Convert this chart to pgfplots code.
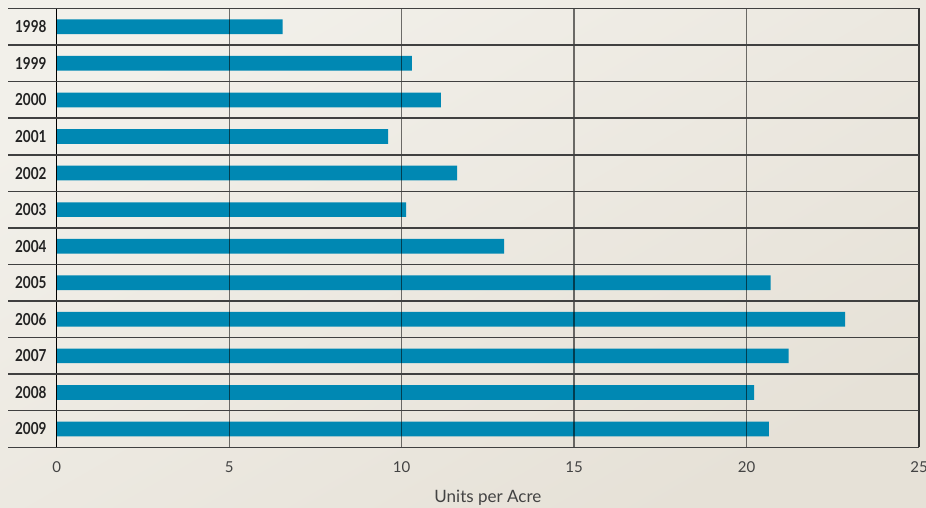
\documentclass[border=0pt]{standalone}
\usepackage{pgfplots}
\pgfplotsset{compat=1.18}
\usepackage{fontspec}
\setmainfont{Lato}
\newfontfamily\yearfont[FakeStretch=0.82]{Lato}
\definecolor{barblue}{HTML}{0088B3}
\definecolor{bgA}{HTML}{F2F0EA}
\definecolor{bgB}{HTML}{E6E1D7}
\definecolor{txt}{HTML}{222222}
\begin{document}
\begin{tikzpicture}[x=1pt,y=1pt]
\shade[top color=bgA, bottom color=bgB, shading angle=30] (0,0) rectangle (926,508);
\useasboundingbox (0,0) rectangle (926,508);
\begin{axis}[
  at={(56.7pt,60.7pt)}, anchor=south west,
  scale only axis, width=862.3pt, height=438.8pt,
  xmin=0, xmax=25, ymin=0.5, ymax=12.5,
  y dir=reverse,
  xbar, bar width=14.7pt,
  axis line style={draw=none},
  ytick={1,...,12},
  yticklabels={1998,1999,2000,2001,2002,2003,2004,2005,2006,2007,2008,2009},
  xtick={0,5,10,15,20,25},
  major tick length=0pt,
  clip=false,
  /pgf/number format/assume math mode=true,
  yticklabel style={font=\yearfont\bfseries\fontsize{16.5}{18}\selectfont, text=txt, inner sep=0pt, anchor=east, xshift=-10pt},
  xticklabel style={font=\fontsize{15}{17}\selectfont, text=txt!85, inner sep=0pt, anchor=north, yshift=-14pt},
  xlabel={Units per Acre},
  xlabel style={font=\fontsize{17}{19}\selectfont, text=txt!85, at={(axis description cs:0.5,0)}, anchor=north, yshift=-43pt, inner sep=0pt},
]
\addplot[fill=barblue, draw=none] coordinates {
(6.55,1) (10.30,2) (11.14,3) (9.61,4) (11.61,5) (10.13,6)
(12.97,7) (20.70,8) (22.86,9) (21.22,10) (20.22,11) (20.65,12)
};
\pgfplotsinvokeforeach{5,10,15,20}{
  \draw[black, opacity=0.55, line width=1.3pt] (axis cs:#1,0.5) -- (axis cs:#1,12.5);
}
\draw[black, line width=1.2pt] (axis cs:0,0.5) -- (axis cs:0,12.5);
\draw[black!80, line width=1.2pt] (axis cs:25,0.5) -- (axis cs:25,12.5);
\pgfplotsinvokeforeach{0.5,1.5,...,12.5}{
  \draw[black!75, line width=1.5pt] (axis cs:-1.41,#1) -- (axis cs:25,#1);
}
\end{axis}
\end{tikzpicture}
\end{document}
